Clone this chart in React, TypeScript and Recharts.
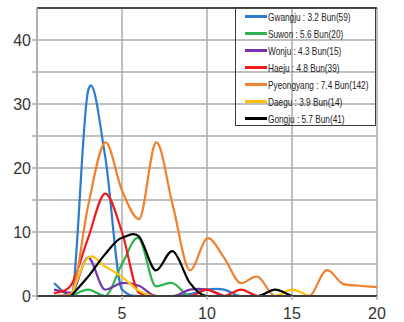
import { LineChart, Line, XAxis, YAxis, CartesianGrid, Legend, ReferenceLine } from 'recharts';

// x positions 1..20
const days = [1, 2, 3, 4, 5, 6, 7, 8, 9, 10, 11, 12, 13, 14, 15, 16, 17, 18, 19, 20];

const gwangju = [2, 0, 32, 22, 1, 0, 0, 0, 0.3, 1, 1, 0, 0, null, null, null, null, null, null, null];
const suwon = [null, 0, 1, 0, 5, 9, 1.5, 2, 0, 0, null, null, null, null, null, null, null, null, null, null];
const wonju = [1, 0.5, 6, 1, 2, 1.6, 0, 0, 1, 1, 0, null, null, null, null, null, null, null, null, null];
const haeju = [0.4, 1.7, 9, 16, 10, 0.5, 0, 0, 0, 1, 0, 1, 0, 0, 0, 0, null, null, null, null];
const pyeongyang = [0, 0.3, 14, 24, 16.5, 12, 24, 14, 4, 9, 6, 2, 3, 0, 0, 0, 4, 1.9, 1.6, 1.4];
const daegu = [null, 0, 6, 4.6, 3, 0.8, 0, 0, 0, 0, 0, 0, 0, 0, 1, 0, null, null, null, null];
const gongju = [null, 0, 3, 6.5, 9.1, 9.3, 4, 7, 2, 0, 0, 0, 0, 1, 0, null, null, null, null, null];

const seriesKeys = ['gwangju', 'suwon', 'wonju', 'haeju', 'pyeongyang', 'daegu', 'gongju'];
const seriesNames = [
  'Gwangju : 3.2 Bun(59)',
  'Suwon : 5.6 Bun(20)',
  'Wonju : 4.3 Bun(15)',
  'Haeju : 4.8 Bun(39)',
  'Pyeongyang : 7.4 Bun(142)',
  'Daegu : 3.9 Bun(14)',
  'Gongju : 5.7 Bun(41)',
];
const seriesColors = ['#2e7ccd', '#2db34f', '#7634a8', '#f01c1c', '#f0812f', '#ffc20e', '#000000'];

const yTicks = [0, 5, 10, 15, 20, 25, 30, 35, 40];
const xTicks = [0, 5, 10, 15, 20];

const seriesValues = [gwangju, suwon, wonju, haeju, pyeongyang, daegu, gongju];
const rows = days.map((d, i) => {
  const row: Record<string, number | null> = { day: d };
  seriesKeys.forEach((k, s) => {
    row[k] = seriesValues[s][i];
  });
  return row;
});

// Excel-like smoothed line: Catmull-Rom tangents, kept monotone between
// points and flat at the lows so nothing dips under the axis.
const smoothCurve = (context: any) => {
  let xs: number[] = [];
  let ys: number[] = [];
  return {
    areaStart() {},
    areaEnd() {},
    lineStart() {
      xs = [];
      ys = [];
    },
    point(x: number, y: number) {
      xs.push(+x);
      ys.push(+y);
    },
    lineEnd() {
      const n = xs.length;
      if (!n) return;
      context.moveTo(xs[0], ys[0]);
      if (n === 1) return;
      const slope = (i: number) => (ys[i + 1] - ys[i]) / (xs[i + 1] - xs[i]);
      const m: number[] = [];
      for (let i = 0; i < n; i++) {
        const s0 = i > 0 ? slope(i - 1) : slope(i);
        const s1 = i < n - 1 ? slope(i) : slope(i - 1);
        let t = (s0 + s1) / 2;
        if (s0 * s1 > 0) {
          t = Math.sign(t) * Math.min(Math.abs(t), 3 * Math.abs(s0), 3 * Math.abs(s1));
        } else {
          const lowLeft = i === 0 || ys[i] >= ys[i - 1];
          const lowRight = i === n - 1 || ys[i] >= ys[i + 1];
          if (lowLeft && lowRight) t = 0;
        }
        m.push(t);
      }
      for (let i = 0; i < n - 1; i++) {
        const dx = (xs[i + 1] - xs[i]) / 3;
        context.bezierCurveTo(
          xs[i] + dx,
          ys[i] + m[i] * dx,
          xs[i + 1] - dx,
          ys[i + 1] - m[i + 1] * dx,
          xs[i + 1],
          ys[i + 1]
        );
      }
    },
  };
};

const renderLegend = (props: any) => {
  // keep the series order, not the alphabetical one
  const items = [...(props.payload || [])].sort(
    (a: any, b: any) => seriesNames.indexOf(a.value) - seriesNames.indexOf(b.value)
  );
  return (
    <div
      style={{
        border: '1.5px solid #3c3c3c',
        width: 141,
        height: 119,
        boxSizing: 'border-box',
      }}
    >
      {items.map((p: any) => (
        <div key={p.value} style={{ height: 17, display: 'flex', alignItems: 'center' }}>
          <span style={{ marginLeft: 9, width: 22, height: 3, background: p.color, flex: 'none' }} />
          <span
            style={{
              fontSize: 11,
              fontFamily: '"Liberation Sans", Arial, sans-serif',
              color: '#222',
              whiteSpace: 'nowrap',
              transform: 'scaleX(0.75)',
              transformOrigin: 'left center',
              marginLeft: 1,
              lineHeight: '12px',
            }}
          >
            {p.value}
          </span>
        </div>
      ))}
    </div>
  );
};

export default function App() {
  const tickStyle = { fill: '#333', fontSize: 16, fontFamily: '"Liberation Sans", Arial, sans-serif' };
  return (
    <div style={{ position: 'absolute', left: 0, top: 0, background: '#fff' }}>
      <LineChart width={404} height={322} data={rows} margin={{ top: 8, right: 27, bottom: 0, left: 0 }}>
        <CartesianGrid stroke="#ababab" strokeWidth={1.5} />
        <XAxis
          dataKey="day"
          type="number"
          domain={[0, 20]}
          ticks={xTicks}
          interval={0}
          tickFormatter={(v) => (v === 0 ? '' : String(v))}
          height={26}
          tickSize={4}
          tickMargin={8}
          tick={tickStyle}
          tickLine={{ stroke: '#ababab', strokeWidth: 1.5 }}
          axisLine={{ stroke: '#3c3c3c', strokeWidth: 2 }}
        />
        <YAxis
          width={37}
          domain={[0, 45]}
          ticks={yTicks}
          interval={0}
          tickFormatter={(v) => (v % 10 === 0 ? String(v) : '')}
          tickSize={5}
          tickMargin={1}
          tick={tickStyle}
          tickLine={{ stroke: '#ababab', strokeWidth: 1.5 }}
          axisLine={{ stroke: '#ababab', strokeWidth: 1.5 }}
        />
        <ReferenceLine y={45} stroke="#4a4a4a" strokeWidth={2} />
        <Legend
          layout="vertical"
          align="center"
          verticalAlign="middle"
          content={renderLegend}
          wrapperStyle={{ left: 235, top: 7, width: 141, height: 119 }}
        />
        {seriesKeys.map((k, s) => (
          <Line
            key={k}
            dataKey={k}
            name={seriesNames[s]}
            type={smoothCurve as any}
            stroke={seriesColors[s]}
            strokeWidth={2.2}
            dot={false}
            activeDot={false}
            isAnimationActive={false}
          />
        ))}
      </LineChart>
    </div>
  );
}
